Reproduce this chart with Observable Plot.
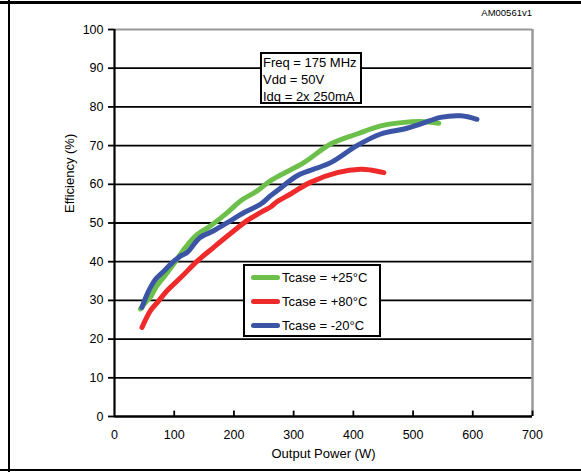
<!DOCTYPE html>
<html>
<head>
<meta charset="utf-8">
<script src="https://cdn.jsdelivr.net/npm/d3@7"></script>
<script src="https://cdn.jsdelivr.net/npm/@observablehq/plot@0.6"></script>
<style>
  html, body { margin: 0; padding: 0; background: #fff; }
  #wrap { position: relative; width: 581px; height: 472px; overflow: hidden; font-family: "Liberation Sans", Arial, sans-serif; }
  #wrap svg { position: absolute; left: 0; top: 0; }
  .hl { position: absolute; left: 0; width: 581px; background: #000; }
  .vl { position: absolute; top: 0; height: 472px; background: #000; }
  #note { position: absolute; left: 260px; top: 52px; width: 97px; height: 48px; border: 2px solid #000; background: #fff; font-size: 13px; line-height: 17px; padding-left: 1px; box-sizing: content-box; }
  #note div { white-space: nowrap; }
  #legend { position: absolute; left: 243px; top: 264px; width: 134px; height: 69px; border: 2px solid #000; background: #fff; font-size: 13px; }
  .item { position: absolute; left: 6px; height: 24px; white-space: nowrap; }
  .sw { position: absolute; left: 0; width: 29px; height: 5px; border-radius: 3px; }
  .lt { position: absolute; left: 31px; line-height: 16px; }
  #code { position: absolute; right: 49px; top: 7px; font-size: 9.5px; }
</style>
</head>
<body>
<div id="wrap"></div>
<script>
(function () {
// Data
const seriesNames = ["Tcase = +25°C", "Tcase = +80°C", "Tcase = -20°C"];
const seriesColors = ["#6cbf4a", "#ee2a2a", "#3b54a5"];

const g25x = [43.5, 52, 60, 69, 85, 99, 119, 136, 161, 189, 211, 239, 261, 278, 317, 362, 406, 446, 485, 513, 543];
const g25y = [27.8, 29.5, 30.8, 33.3, 36.5, 39.4, 43.7, 46.7, 49.3, 52.7, 55.7, 58.3, 60.9, 62.4, 65.6, 70.4, 73.0, 75.1, 76.0, 76.2, 75.8];

const r80x = [46, 60, 72, 88, 111, 139, 166, 200, 222, 250, 262, 272, 295, 328, 373, 412, 429, 451];
const r80y = [23.0, 27.3, 29.5, 32.5, 35.9, 40.2, 43.7, 48.0, 50.6, 53.2, 54.2, 55.5, 57.5, 60.5, 63.0, 63.9, 63.7, 63.0];

const b20x = [46, 53, 60, 69, 83, 100, 111, 122, 133, 144, 166, 189, 217, 245, 261, 278, 306, 362, 406, 446, 485, 513, 546, 580, 607];
const b20y = [28.2, 31.0, 33.3, 35.5, 37.6, 40.2, 41.5, 42.4, 44.5, 46.3, 48.0, 50.1, 52.7, 54.9, 57.0, 59.0, 62.2, 65.6, 70.0, 73.0, 74.3, 75.6, 77.3, 77.7, 76.8];

const xTicks = [0, 100, 200, 300, 400, 500, 600, 700];
const yTicks = [0, 10, 20, 30, 40, 50, 60, 70, 80, 90, 100];
const gridY = [10, 20, 30, 40, 50, 60, 70, 80, 90];
const noteLines = ["Freq = 175 MHz", "Vdd = 50V", "Idq = 2x 250mA"];
const xLabel = "Output Power (W)";
const yLabel = "Efficiency (%)";
const codeLabel = "AM00561v1";

const toRows = (xs, ys, name) => xs.map((x, i) => ({x, y: ys[i], s: name}));
const rows = [
  ...toRows(g25x, g25y, seriesNames[0]),
  ...toRows(r80x, r80y, seriesNames[1]),
  ...toRows(b20x, b20y, seriesNames[2])
];

const chart = Plot.plot({
  width: 581,
  height: 472,
  marginLeft: 114,
  marginRight: 49,
  marginTop: 29,
  marginBottom: 56,
  style: {fontFamily: "'Liberation Sans', Arial, sans-serif", fontSize: "12.5px", background: "transparent", color: "#000"},
  x: {domain: [0, 700]},
  y: {domain: [0, 100]},
  color: {domain: seriesNames, range: seriesColors},
  marks: [
    Plot.ruleY(gridY, {stroke: "#000", strokeWidth: 1.8}),
    Plot.ruleY([100], {stroke: "#999", strokeWidth: 2}),
    Plot.ruleX([700], {stroke: "#999", strokeWidth: 2.5}),
    Plot.ruleX(xTicks.slice(1), {x: d => d, y1: 0, y2: 1.4, stroke: "#000", strokeWidth: 1.8}),
    Plot.axisY({ticks: yTicks, tickSize: 6, tickPadding: 5, label: null, stroke: "#000", strokeWidth: 1.8, fontSize: 12.5}),
    Plot.axisX({ticks: xTicks, tickSize: 0, tickPadding: 14, label: null, fontSize: 12.5}),
    Plot.ruleX([0], {stroke: "#000", strokeWidth: 2.2}),
    Plot.ruleY([0], {stroke: "#000", strokeWidth: 2.5}),
    Plot.line(rows, {x: "x", y: "y", z: "s", stroke: "s", strokeWidth: 5, curve: "catmull-rom", strokeLinecap: "round", strokeLinejoin: "round"}),
    Plot.text([xLabel], {text: d => d, frameAnchor: "bottom", lineAnchor: "middle", dy: 37, fontSize: 13}),
    Plot.text([yLabel], {text: d => d, frameAnchor: "left", rotate: -90, lineAnchor: "middle", dx: -45, dy: -10, fontSize: 13})
  ]
});

const wrap = document.getElementById("wrap");
wrap.appendChild(chart);

// outer frame lines
const lineTop = document.createElement("div"); lineTop.className = "hl"; lineTop.style.top = "1px"; lineTop.style.height = "3px"; wrap.appendChild(lineTop);
const lineBot = document.createElement("div"); lineBot.className = "hl"; lineBot.style.top = "469px"; lineBot.style.height = "2px"; wrap.appendChild(lineBot);
const lineLeft = document.createElement("div"); lineLeft.className = "vl"; lineLeft.style.left = "8px"; lineLeft.style.width = "2px"; wrap.appendChild(lineLeft);

const code = document.createElement("div"); code.id = "code"; code.textContent = codeLabel; wrap.appendChild(code);

const note = document.createElement("div"); note.id = "note";
noteLines.forEach(t => { const d = document.createElement("div"); d.textContent = t; note.appendChild(d); });
wrap.appendChild(note);

const legend = document.createElement("div"); legend.id = "legend";
seriesNames.forEach((name, i) => {
  const it = document.createElement("div"); it.className = "item"; it.style.top = (4 + i * 24) + "px";
  const sw = document.createElement("div"); sw.className = "sw"; sw.style.background = seriesColors[i]; sw.style.top = "5px";
  const lt = document.createElement("div"); lt.className = "lt"; lt.textContent = name; lt.style.top = "0px";
  it.appendChild(sw); it.appendChild(lt); legend.appendChild(it);
});
wrap.appendChild(legend);
})();
</script>
</body>
</html>
